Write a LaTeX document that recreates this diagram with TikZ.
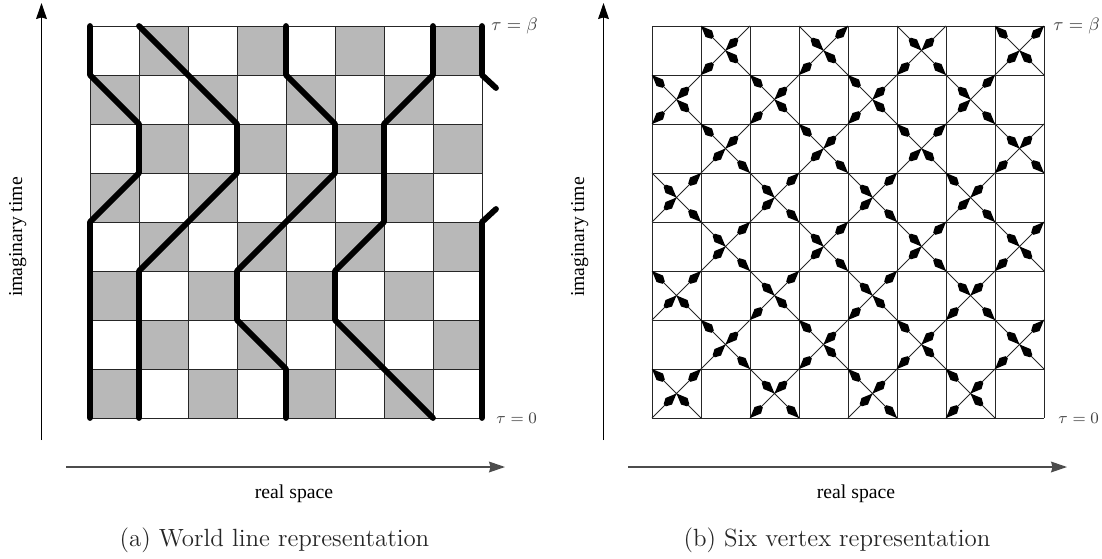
\documentclass[tikz,border=0pt]{standalone}
\usepackage[no-math]{fontspec}
\usetikzlibrary{arrows.meta}
\newfontfamily\labelfont{Liberation Serif}
\definecolor{cellgray}{gray}{0.72}
\tikzset{
  x=0.5pt,y=-0.5pt,
  gridline/.style={line width=0.5pt,black!85},
  worldline/.style={line width=2.9pt,line cap=round,line join=round,black},
  diagline/.style={line width=0.45pt,black!85},
  axisline/.style={line width=0.5pt,black,-{Stealth[length=8pt,width=5.4pt,inset=0.8pt]}},
  hlabel/.style={font=\labelfont\fontsize{9.85}{11}\selectfont,inner sep=0pt,anchor=base},
  caption/.style={font=\fontsize{12.45}{14}\selectfont,inner sep=0pt,text=black!85,anchor=base},
  tau/.style={font=\fontsize{9.5}{12}\selectfont,inner sep=0pt,anchor=west,text=black!75},
  tauzero/.style={tau,font=\fontsize{7.9}{10}\selectfont},
  kite/.style={fill=black,draw=none},
}
% one kite: #1,#2 the end point at which the tip sits, #3 angle of its axis
\newcommand{\kiteat}[3]{%
  \fill[kite,shift={({#1},{#2})},rotate=#3] (0,0) -- (11,-4.6) -- (16.5,-1.6) -- (16.5,1.6) -- (11,4.6) -- cycle;}
% arm of a vertex: #1,#2 cell centre, #3 sign x, #4 sign y, #5 state
\newcommand{\arm}[5]{%
  \if#5C
    \pgfmathsetmacro{\ang}{atan2(#4,-(#3))}%
    \pgfmathsetmacro{\kx}{#1+24.5*(#3)}\pgfmathsetmacro{\ky}{#2+24.5*(#4)}%
    \kiteat{\kx}{\ky}{\ang}%
  \else
    \pgfmathsetmacro{\ang}{atan2(-(#4),#3)}%
    \kiteat{#1}{#2}{\ang}%
  \fi}
% vertex in column #1, row #2 (from the top): TL TR BL BR states
\newcommand{\vertexcell}[6]{%
  \pgfmathsetmacro{\cx}{652+49*#1+24.5}\pgfmathsetmacro{\cy}{26+49*#2+24.5}%
  \draw[diagline] ({\cx-24.5},{\cy-24.5}) -- ({\cx+24.5},{\cy+24.5}) ({\cx+24.5},{\cy-24.5}) -- ({\cx-24.5},{\cy+24.5});
  \arm{\cx}{\cy}{-1}{-1}{#3}\arm{\cx}{\cy}{1}{-1}{#4}\arm{\cx}{\cy}{-1}{1}{#5}\arm{\cx}{\cy}{1}{1}{#6}}
\begin{document}
\begin{tikzpicture}
\useasboundingbox (0,0) rectangle (1102,558);
% ---- vertices of the world line lattice
\foreach \i in {0,...,8}\foreach \j in {0,...,8}{
  \coordinate (v\i-\j) at ({90+49*\i},{418-49*\j});}
\coordinate (stubA) at (496,88);
\coordinate (stubB) at (496,209);
% ---- checkerboard
\foreach \r in {0,...,7}\foreach \c in {0,...,7}{
  \pgfmathtruncatemacro{\odd}{mod(\r+\c,2)}
  \ifnum\odd=1
    \fill[cellgray] ({90+49*\c},{26+49*\r}) rectangle ++(49,49);
  \fi}
\foreach \k in {0,...,8}{
  \draw[gridline] ({90+49*\k},26) -- ({90+49*\k},418);
  \draw[gridline] (90,{26+49*\k}) -- (482,{26+49*\k});
  \draw[gridline] ({652+49*\k},26) -- ({652+49*\k},418);
  \draw[gridline] (652,{26+49*\k}) -- (1044,{26+49*\k});}
% ---- world lines
\draw[worldline] (v0-0) -- (v0-4) -- (v1-5) -- (v1-6) -- (v0-7) -- (v0-8);
\draw[worldline] (v1-0) -- (v1-3) -- (v3-5) -- (v3-6) -- (v1-8);
\draw[worldline] (v4-0) -- (v4-1) -- (v3-2) -- (v3-3) -- (v5-5) -- (v5-6) -- (v4-7) -- (v4-8);
\draw[worldline] (v7-0) -- (v5-2) -- (v5-3) -- (v6-4) -- (v6-6) -- (v7-7) -- (v7-8);
\draw[worldline] (v8-8) -- (v8-7) -- (stubA);
\draw[worldline] (v8-0) -- (v8-4) -- (stubB);
% ---- six vertex cells
\vertexcell{1}{0}{C}{M}{C}{M}
\vertexcell{3}{0}{M}{C}{C}{M}
\vertexcell{5}{0}{M}{M}{C}{C}
\vertexcell{7}{0}{C}{C}{M}{M}
\vertexcell{0}{1}{C}{M}{C}{M}
\vertexcell{2}{1}{C}{M}{C}{M}
\vertexcell{4}{1}{C}{M}{C}{M}
\vertexcell{6}{1}{M}{C}{M}{C}
\vertexcell{1}{2}{C}{M}{M}{C}
\vertexcell{3}{2}{C}{M}{M}{C}
\vertexcell{5}{2}{C}{C}{M}{M}
\vertexcell{7}{2}{M}{M}{C}{C}
\vertexcell{0}{3}{M}{C}{M}{C}
\vertexcell{2}{3}{M}{C}{M}{C}
\vertexcell{4}{3}{M}{C}{M}{C}
\vertexcell{6}{3}{C}{M}{M}{C}
\vertexcell{1}{4}{M}{C}{M}{C}
\vertexcell{3}{4}{M}{C}{M}{C}
\vertexcell{5}{4}{M}{C}{M}{C}
\vertexcell{7}{4}{M}{C}{C}{M}
\vertexcell{0}{5}{C}{C}{M}{M}
\vertexcell{2}{5}{M}{C}{C}{M}
\vertexcell{4}{5}{M}{C}{C}{M}
\vertexcell{6}{5}{M}{M}{C}{C}
\vertexcell{1}{6}{C}{M}{M}{C}
\vertexcell{3}{6}{C}{M}{C}{M}
\vertexcell{5}{6}{C}{M}{C}{M}
\vertexcell{7}{6}{M}{C}{C}{M}
\vertexcell{0}{7}{C}{C}{M}{M}
\vertexcell{2}{7}{M}{M}{C}{C}
\vertexcell{4}{7}{C}{M}{M}{C}
\vertexcell{6}{7}{C}{M}{C}{M}
% ---- axes
\coordinate (aS) at (41.5,440); \coordinate (aE) at (41.5,3);
\coordinate (bS) at (66,467);   \coordinate (bE) at (505,467);
\coordinate (cS) at (603.5,440);\coordinate (cE) at (603.5,3);
\coordinate (dS) at (628,467);  \coordinate (dE) at (1067,467);
\draw[axisline] (aS) -- (aE);
\draw[axisline,line width=0.7pt,black!70] (bS) -- (bE);
\draw[axisline] (cS) -- (cE);
\draw[axisline,line width=0.7pt,black!70] (dS) -- (dE);
% ---- labels
\node[hlabel,rotate=90] (la) at (22,237) {imaginary time};
\node[hlabel,rotate=90] (lb) at (584,237) {imaginary time};
\node[hlabel] (lc) at (294,498) {real space};
\node[hlabel] (ld) at (856,498) {real space};
\node[tau] (ta) at (491,26) {$\tau=\beta$};
\node[tau] (tb) at (1053,26) {$\tau=\beta$};
\node[tauzero] (tc) at (496,418) {$\tau=0$};
\node[tauzero] (td) at (1058,418) {$\tau=0$};
\node[caption] (ca) at (274.5,546) {(a)\hspace{0.32em}World line representation};
\node[caption] (cb) at (837,546) {(b)\hspace{0.32em}Six vertex representation};
\end{tikzpicture}
\end{document}
